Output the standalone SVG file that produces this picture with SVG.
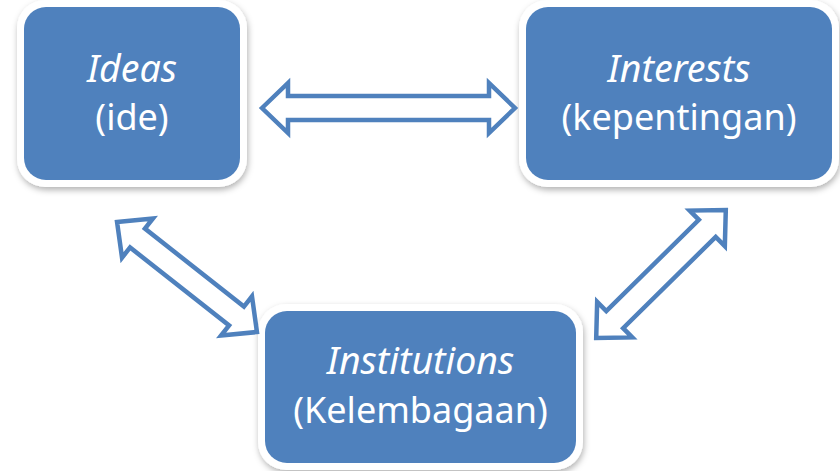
<svg xmlns="http://www.w3.org/2000/svg" width="840" height="471" viewBox="0 0 840 471">
<defs>
<filter id="sh" x="-10%" y="-10%" width="125%" height="130%">
<feDropShadow dx="1" dy="3" stdDeviation="3" flood-color="#000" flood-opacity="0.3"/>
</filter>
<style>
.frame{fill:#fff;filter:url(#sh)}
.box{fill:#4F81BD}
.t{font-family:"Noto Sans","Open Sans","Liberation Sans",sans-serif;font-size:36px;fill:#fff;text-anchor:middle}
.it{font-style:italic;font-size:37.5px}
.arr{fill:#fff;stroke:#4F81BD;stroke-width:4.5;stroke-linejoin:miter}
</style>
</defs>
<rect width="840" height="471" fill="#fff"/>
<g id="ideas">
<rect class="frame" x="17" y="0" width="230" height="187" rx="28"/>
<rect class="box" x="24" y="7" width="216" height="173" rx="22"/>
<text class="t it" x="132" y="82">Ideas</text>
<text class="t" x="132" y="130">(ide)</text>
</g>
<g id="interests">
<rect class="frame" x="519" y="0" width="320" height="187" rx="28"/>
<rect class="box" x="526" y="7" width="306" height="173" rx="22"/>
<text class="t it" x="679" y="82">Interests</text>
<text class="t" x="679" y="130">(kepentingan)</text>
</g>
<g id="institutions">
<rect class="frame" x="258" y="304" width="325" height="166" rx="28"/>
<rect class="box" x="265" y="311" width="311" height="152" rx="22"/>
<text class="t it" x="420.5" y="374">Institutions</text>
<text class="t" x="420.5" y="423">(Kelembagaan)</text>
</g>
<g id="connectors">
<path class="arr" transform="translate(388.5,108)" d="M -126.5 0 L -100.5 -25 L -100.5 -12 L 100.5 -12 L 100.5 -25 L 126.5 0 L 100.5 25 L 100.5 12 L -100.5 12 L -100.5 25 Z"/>
<path class="arr" transform="translate(187,277) rotate(38.2)" d="M -89 0 L -63 -25 L -63 -12 L 63 -12 L 63 -25 L 89 0 L 63 25 L 63 12 L -63 12 L -63 25 Z"/>
<path class="arr" transform="translate(661,274) rotate(-44.6)" d="M -91 0 L -65 -25 L -65 -12 L 65 -12 L 65 -25 L 91 0 L 65 25 L 65 12 L -65 12 L -65 25 Z"/>
</g>
</svg>
